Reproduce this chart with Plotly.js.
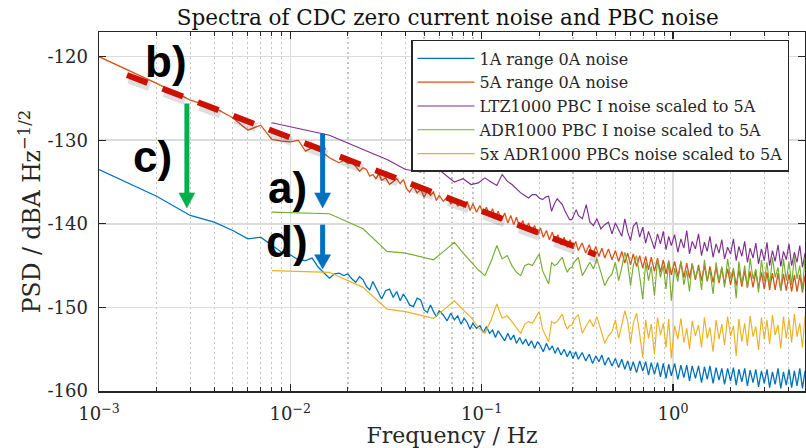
<!DOCTYPE html>
<html><head><meta charset="utf-8">
<script src="https://cdn.plot.ly/plotly-3.0.1.min.js"></script>
<style>html,body{margin:0;padding:0;background:#fff;} #chart{width:806px;height:448px;}</style>
</head><body><div id="chart"></div>
<script>
// ---------------- data ----------------
const fA = [
0.001,0.002,0.003,0.004,0.005,0.006,0.007,0.008,0.009,0.010,
0.011,0.012,0.013,0.014,0.015,0.016,0.017,0.018,0.019,0.020,
0.021,0.022,0.023,0.024,0.025,0.026,0.027,0.028,0.029,0.030,
0.0315,0.033,0.0345,0.036,0.0375,0.039,0.0405,0.042,0.044,0.046,
0.048,0.050,0.052,0.054,0.056,0.058,0.060,0.063,0.066,0.069,
0.072,0.075,0.078,0.081,0.084,0.087,0.090,0.094,0.098,0.102,
0.106,0.110,0.114,0.118,0.122,0.127,0.132,0.137,0.142,0.147,
0.152,0.158,0.164,0.170,0.176,0.182,0.189,0.196,0.203,0.210,
0.218,0.226,0.234,0.242,0.250,0.260,0.270,0.280,0.290,0.300,
0.310,0.320,0.335,0.350,0.365,0.380,0.395,0.410,0.425,0.440,
0.460,0.480,0.500,0.520,0.540,0.560,0.580,0.600,0.620,0.645,
0.670,0.695,0.720,0.745,0.770,0.800,0.830,0.860,0.890,0.920,
0.950,0.980,1.02,1.06,1.10,1.14,1.18,1.22,1.26,1.31,
1.36,1.41,1.46,1.51,1.56,1.62,1.68,1.74,1.80,1.86,
1.93,2.00,2.07,2.14,2.21,2.29,2.37,2.45,2.53,2.62,
2.71,2.80,2.90,3.00,3.10,3.20,3.31,3.42,3.54,3.66,
3.78,3.91,4.04,4.17,4.31,4.45,4.60,4.75,4.90,5.05];

const noise1A = [
-133.5,-136.7,-139.0,-139.8,-140.8,-141.8,-141.6,-142.5,-143.4,-143.7,
-144.3,-144.4,-144.1,-145.2,-145.9,-146.5,-146.0,-145.9,-146.2,-146.0,
-146.6,-147.0,-146.3,-146.7,-147.5,-147.9,-146.9,-147.6,-148.2,-149.0,
-148.0,-147.8,-148.8,-148.1,-149.2,-148.4,-149.0,-149.7,-149.9,-148.9,
-149.1,-150.3,-150.6,-149.7,-150.5,-151.1,-150.4,-150.9,-151.6,-150.7,
-151.5,-151.0,-152.0,-151.3,-151.8,-152.6,-151.9,-152.5,-152.2,-153.0,
-152.3,-153.1,-152.7,-153.6,-152.8,-153.4,-154.0,-153.1,-153.9,-153.3,
-154.3,-153.6,-154.4,-153.8,-154.6,-154.0,-154.9,-154.1,-154.6,-155.3,
-154.3,-155.1,-154.6,-155.5,-154.8,-155.7,-155.0,-155.9,-155.2,-156.1,
-155.3,-156.2,-155.4,-156.4,-155.6,-156.7,-155.8,-156.5,-155.7,-156.9,
-156.0,-157.0,-156.1,-157.2,-156.2,-157.4,-156.4,-157.6,-156.5,-157.8,
-156.4,-157.6,-156.5,-158.1,-156.6,-158.0,-156.6,-158.3,-156.7,-158.5,
-156.8,-158.2,-156.7,-158.6,-156.9,-158.4,-156.9,-158.8,-157.0,-158.5,
-157.0,-159.0,-157.1,-158.6,-157.0,-159.1,-157.2,-158.7,-157.3,-159.2,
-157.3,-158.8,-157.2,-159.3,-157.4,-158.9,-157.3,-159.4,-157.5,-159.0,
-157.4,-159.5,-157.6,-159.1,-157.4,-159.6,-157.7,-159.2,-157.3,-159.7,
-157.7,-159.3,-157.4,-159.6,-157.6,-159.4,-157.3,-159.7,-157.6,-159.1];

const noise5A = [
-120.0,-123.2,-125.2,-126.1,-127.3,-128.8,-128.2,-129.9,-130.1,-130.2,
-130.0,-131.3,-130.9,-131.0,-131.6,-132.1,-132.4,-132.7,-132.4,-132.8,
-132.6,-133.2,-133.7,-133.3,-133.5,-134.3,-134.1,-134.6,-134.0,-134.8,
-134.5,-135.3,-134.9,-134.6,-135.2,-134.7,-135.8,-136.2,-135.5,-136.3,
-135.9,-136.8,-136.1,-136.6,-136.2,-137.2,-136.6,-137.3,-136.8,-137.6,
-137.0,-137.9,-137.2,-137.8,-137.3,-138.4,-137.6,-138.6,-137.8,-138.9,
-138.0,-139.1,-138.2,-139.3,-138.5,-139.6,-138.7,-139.9,-139.0,-140.1,
-139.2,-140.4,-139.6,-140.7,-139.9,-141.0,-140.2,-141.3,-140.5,-141.6,
-140.8,-141.9,-141.0,-142.2,-141.3,-142.5,-141.6,-142.8,-141.9,-143.0,
-142.1,-143.2,-142.3,-143.5,-142.5,-143.7,-142.7,-143.9,-142.9,-144.1,
-143.0,-144.3,-143.2,-144.5,-143.3,-144.7,-143.5,-144.9,-143.6,-145.1,
-143.8,-145.3,-143.9,-145.5,-144.0,-145.7,-144.1,-145.8,-144.3,-146.0,
-144.4,-146.1,-144.5,-146.3,-144.6,-146.4,-144.7,-146.5,-144.8,-146.7,
-144.9,-146.8,-145.0,-146.9,-145.1,-147.0,-145.2,-147.1,-145.3,-147.2,
-145.4,-147.3,-145.5,-147.4,-145.5,-147.5,-145.6,-147.6,-145.7,-147.6,
-145.7,-147.7,-145.8,-147.8,-145.8,-147.9,-145.9,-147.9,-145.9,-148.0,
-146.0,-148.0,-146.0,-148.1,-146.1,-148.1,-146.1,-148.2,-146.2,-148.0];

const fB = [
0.008,0.016,0.024,0.032,0.040,0.048,0.056,0.064,0.072,0.080,
0.088,0.096,0.104,0.112,0.120,0.128,0.136,0.144,0.152,0.160,
0.168,0.176,0.184,0.192,0.200,0.208,0.216,0.224,0.232,0.240,
0.248,0.256,0.264,0.272,0.280,0.288,0.296,0.304,0.312,0.320,
0.336,0.352,0.368,0.384,0.400,0.420,0.440,0.460,0.480,0.500,
0.520,0.540,0.560,0.580,0.600,0.620,0.645,0.670,0.695,0.720,
0.745,0.770,0.800,0.830,0.860,0.890,0.920,0.950,0.980,1.02,
1.06,1.10,1.14,1.18,1.22,1.26,1.31,1.36,1.41,1.46,
1.51,1.56,1.62,1.68,1.74,1.80,1.86,1.93,2.00,2.07,
2.14,2.21,2.29,2.37,2.45,2.53,2.62,2.71,2.80,2.90,
3.00,3.10,3.20,3.31,3.42,3.54,3.66,3.78,3.91,4.04,
4.17,4.31,4.45,4.60,4.75,4.90,5.05];

const ltz1000 = [
-127.9,-129.4,-131.1,-132.3,-133.5,-133.8,-133.0,-134.1,-135.0,-134.6,
-135.3,-135.1,-134.5,-135.0,-135.4,-134.1,-134.9,-135.3,-135.8,-136.3,
-136.6,-136.9,-136.5,-136.5,-136.9,-137.1,-136.8,-136.7,-138.5,-137.6,
-137.0,-137.3,-137.7,-138.4,-139.0,-139.5,-139.5,-138.9,-138.3,-139.0,
-139.4,-137.7,-139.8,-140.2,-139.4,-140.6,-140.1,-139.8,-141.2,-139.9,
-140.7,-141.5,-139.4,-141.0,-142.0,-140.3,-139.8,-141.6,-140.4,-142.3,
-140.9,-141.8,-143.0,-141.2,-142.4,-140.9,-143.1,-141.5,-142.6,-141.3,
-143.4,-141.8,-142.9,-140.8,-143.6,-142.1,-143.0,-141.2,-143.8,-142.2,
-143.3,-141.5,-144.0,-142.4,-143.5,-141.9,-144.2,-142.8,-143.6,-141.8,
-144.4,-142.7,-143.9,-142.1,-144.6,-142.9,-144.1,-142.3,-144.8,-143.0,
-144.4,-142.2,-145.0,-143.2,-144.5,-142.5,-145.1,-143.3,-144.3,-142.4,
-145.0,-143.4,-144.6,-142.6,-145.2,-143.5,-144.4];

const adr1000 = [
-138.6,-138.8,-140.6,-143.3,-143.5,-143.9,-144.3,-143.2,-142.2,-143.5,
-144.6,-145.5,-146.2,-144.5,-142.6,-144.2,-143.8,-145.0,-145.8,-146.2,
-145.0,-144.8,-145.0,-144.2,-143.6,-145.6,-146.5,-147.2,-144.6,-145.0,
-144.8,-144.4,-144.0,-145.0,-145.8,-145.3,-145.2,-144.6,-144.3,-144.0,
-146.2,-145.3,-144.6,-145.4,-144.2,-145.8,-147.4,-146.5,-146.0,-144.6,
-146.8,-145.2,-143.4,-144.8,-147.4,-145.0,-143.8,-146.3,-149.0,-144.6,
-146.8,-145.1,-148.6,-144.3,-146.4,-145.0,-147.8,-144.5,-149.2,-145.3,
-146.9,-144.4,-147.3,-145.6,-148.1,-144.7,-146.5,-145.2,-147.9,-144.3,
-146.8,-145.5,-148.4,-144.6,-146.9,-145.1,-147.6,-144.2,-146.5,-145.3,
-148.9,-144.5,-147.2,-145.0,-147.7,-144.1,-146.6,-145.4,-148.2,-144.3,
-146.9,-144.6,-147.5,-144.0,-146.4,-145.2,-148.0,-144.2,-146.8,-144.5,
-147.3,-143.9,-146.6,-145.0,-147.9,-144.1,-146.7];

const adr1000x5 = [
-145.6,-145.8,-147.6,-150.2,-150.5,-150.9,-151.3,-150.2,-149.2,-150.3,
-151.2,-152.4,-153.1,-151.5,-149.6,-151.3,-151.0,-151.7,-152.5,-153.1,
-152.0,-151.7,-151.9,-151.2,-150.5,-152.6,-153.4,-154.1,-151.7,-151.9,
-151.7,-151.3,-150.8,-151.9,-152.6,-152.2,-152.1,-151.5,-151.1,-150.9,
-153.1,-152.2,-151.5,-152.3,-151.1,-152.7,-154.3,-153.4,-152.9,-151.5,
-153.7,-152.1,-150.4,-151.7,-154.3,-151.9,-150.7,-153.2,-156.0,-151.5,
-153.7,-152.0,-155.6,-151.2,-153.3,-151.9,-154.8,-151.4,-156.1,-152.2,
-153.8,-151.3,-154.2,-152.5,-155.0,-151.6,-153.4,-152.1,-154.8,-151.2,
-153.7,-152.4,-155.3,-151.5,-153.8,-152.0,-154.5,-151.1,-153.4,-152.2,
-155.8,-151.4,-154.1,-151.9,-154.6,-151.0,-153.5,-152.3,-155.1,-151.2,
-153.8,-151.5,-154.4,-150.9,-153.3,-152.1,-154.9,-151.1,-153.7,-151.4,
-154.2,-150.8,-153.5,-151.9,-154.8,-151.0,-153.6];

const seriesNames = ['1A range 0A noise','5A range 0A noise','LTZ1000 PBC I noise scaled to 5A',
  'ADR1000 PBC I noise scaled to 5A','5x ADR1000 PBCs noise scaled to 5A'];
const seriesColors = ['#0072BD','#D95319','#7E2F8E','#77AC30','#EDB120'];

const xTickVals = [0.001, 0.01, 0.1, 1];
const xTickText = ['10<sup>\u22123</sup>','10<sup>\u22122</sup>','10<sup>\u22121</sup>','10<sup>0</sup>'];
const yTickVals = [-160,-150,-140,-130,-120];
const yTickText = ['-160','-150','-140','-130','-120'];

// annotation anchors (frequency, dB)
const labelText = ['b)','c)','a)','d)'];
const labelF    = [0.00224, 0.0019, 0.00972, 0.00966];
const labelDB   = [-120.6, -131.9, -135.6, -142.1];
const trendStart = [0.0014, -122.2];
const trendEnd   = [0.396, -143.7];
const arrowF     = [0.00288, 0.01475, 0.01475];
const arrowTopDB = [-125.6, -129.2, -140.1];
const arrowHeadDB= [-136.3, -136.3, -143.7];
const arrowTipDB = [-138.1, -138.1, -145.4];
const arrowColors= ['#00B050','#0070C0','#0070C0'];

// ---------------- chart ----------------
const xRange = [-3, 0.69];
const yRange = [-160, -117.05];
const plotW = 706, plotH = 359.5;
function px(f){ return (Math.log10(f)-xRange[0])/(xRange[1]-xRange[0]); }
function py(v){ return (v-yRange[0])/(yRange[1]-yRange[0]); }

const minorX = [];
for (let d=-3; d<=0; d++) for (let m=2; m<=9; m++) { const v=m*Math.pow(10,d); if (Math.log10(v) < xRange[1]) minorX.push(v); }

const ys = [noise1A, noise5A, ltz1000, adr1000, adr1000x5];
const xs = [fA, fA, fB, fB, fB];
const traces = ys.map((y,i)=>({type:'scatter', mode:'lines', x:xs[i], y:y, name:seriesNames[i],
  line:{color:seriesColors[i], width:(i<2?1.3:1.15)}, hoverinfo:'skip'}));

const shapes = [];
const dx = 2/plotW, dy = -4/plotH;
shapes.push({type:'line', xref:'paper', yref:'paper', x0:px(trendStart[0])+dx, y0:py(trendStart[1])+dy, x1:px(trendEnd[0])+dx, y1:py(trendEnd[1])+dy,
  line:{color:'rgba(0,0,0,0.13)', width:9, dash:'22px,16px'}});
shapes.push({type:'line', xref:'paper', yref:'paper', x0:px(trendStart[0]), y0:py(trendStart[1]), x1:px(trendEnd[0]), y1:py(trendEnd[1]),
  line:{color:'#CC1100', width:6, dash:'22px,16px'}});
const hw = 8/plotW;
for (let i=0;i<arrowF.length;i++){
  const x = px(arrowF[i]);
  shapes.push({type:'line', xref:'paper', yref:'paper', x0:x, x1:x, y0:py(arrowTopDB[i]), y1:py(arrowHeadDB[i])-1/plotH,
    line:{color:arrowColors[i], width:5}});
  const yh = py(arrowHeadDB[i]), yt = py(arrowTipDB[i]);
  shapes.push({type:'path', xref:'paper', yref:'paper',
    path:`M ${x-hw} ${yh} L ${x+hw} ${yh} L ${x} ${yt} Z`, fillcolor:arrowColors[i], line:{color:arrowColors[i], width:0.5}});
}

const annotations = labelText.map((t,i)=>({xref:'paper', yref:'paper', x:px(labelF[i]), y:py(labelDB[i]),
  text:t, showarrow:false, xanchor:'center', yanchor:'middle',
  font:{family:'Liberation Sans, Arial, sans-serif', size:44, color:'#000', weight:'bold'}}));

const axisCommon = {showline:true, linecolor:'#262626', linewidth:1.5, mirror:'ticks', ticks:'inside', ticklen:7,
  tickwidth:1.2, tickcolor:'#262626', showgrid:true, gridcolor:'#dcdcdc', gridwidth:1.5, zeroline:false,
  tickfont:{family:'DejaVu Serif', size:18, color:'#262626'}};

const layout = {
  width:806, height:448,
  margin:{l:99, r:1, t:32, b:56.5, pad:0},
  paper_bgcolor:'#ffffff', plot_bgcolor:'#ffffff',
  font:{family:'DejaVu Serif', color:'#262626', size:18},
  showlegend:true,
  title:{text:'Spectra of CDC zero current noise and PBC noise', font:{family:'DejaVu Serif', size:21.5, color:'#111'},
    x:0.494, xref:'paper', xanchor:'center', y:0.962, yref:'container', yanchor:'middle'},
  xaxis:Object.assign({}, axisCommon, {type:'log', range:xRange, tickmode:'array', tickvals:xTickVals, ticktext:xTickText,
    ticklabelstandoff:6,
    minor:{tickmode:'array', tickvals:minorX, ticks:'inside', ticklen:4, tickwidth:1, tickcolor:'#262626',
      showgrid:true, gridcolor:'#c4c4c4', griddash:'1.5px,3.5px', gridwidth:1.2},
    title:{text:'Frequency / Hz', font:{family:'DejaVu Serif', size:22, color:'#262626'}, standoff:4}}),
  yaxis:Object.assign({}, axisCommon, {range:yRange, tickmode:'array', tickvals:yTickVals, ticktext:yTickText,
    ticklabelstandoff:6,
    title:{text:'PSD / dBA Hz<sup>\u22121/2</sup>', font:{family:'DejaVu Serif', size:23.5, color:'#262626'}, standoff:0}}),
  legend:{x:(411-99)/plotW, y:(391.5-40)/plotH, xanchor:'left', yanchor:'top', bgcolor:'#ffffff',
    bordercolor:'#262626', borderwidth:1.5, font:{family:'DejaVu Serif', size:16, color:'#262626'},
    itemwidth:57, tracegroupgap:0},
  shapes:shapes,
  annotations:annotations
};

Plotly.newPlot('chart', traces, layout, {staticPlot:true, displayModeBar:false});
</script>
</body></html>
